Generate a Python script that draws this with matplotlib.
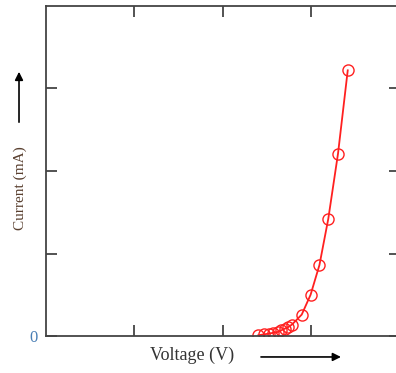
import matplotlib
matplotlib.use("Agg")
import matplotlib.pyplot as plt

# I-V curve of a diode (arbitrary units)
voltage = [2.40, 2.46, 2.52, 2.57, 2.62, 2.66, 2.70, 2.74, 2.78, 2.89, 2.99, 3.09, 3.19, 3.30, 3.41]
current = [0.01, 0.02, 0.03, 0.04, 0.05, 0.07, 0.09, 0.11, 0.14, 0.26, 0.50, 0.86, 1.42, 2.21, 3.22]

x_ticks = [1, 2, 3]
y_ticks = [0, 1, 2, 3]
y_labels = ["0", "", "", ""]

fig = plt.figure(figsize=(3.96, 3.73), dpi=100)
ax = fig.add_axes([0.116, 0.099, 0.894, 0.885])

ax.plot(voltage, current, color="#ff2020", lw=1.3, marker="o", ms=8,
        mfc="none", mec="#ff2020", mew=1.0)

ax.set_xlim(0, 4)
ax.set_ylim(0, 4)
ax.set_xticks(x_ticks)
ax.set_xticklabels([])
ax.set_yticks(y_ticks)
ax.set_yticklabels(y_labels)
ax.tick_params(direction="in", length=8, width=1.3, color="#444444",
               top=True, right=True, labelsize=12, labelcolor="#4a7fb5", pad=6)
for s in ax.spines.values():
    s.set_color("#444444")
    s.set_linewidth(1.3)
ax.spines["right"].set_visible(False)
for lab in ax.get_yticklabels():
    lab.set_family("Liberation Serif")

fig.text(0.485, 0.046, "Voltage (V)", ha="center", va="center",
         family="Liberation Serif", fontsize=13, color="#333333")
fig.text(0.05, 0.495, "Current (mA)", ha="center", va="center", rotation=90,
         family="Liberation Serif", fontsize=11, color="#5a4030")

fig.patches.append(matplotlib.patches.FancyArrowPatch(
    (0.652, 0.043), (0.868, 0.043), transform=fig.transFigure,
    arrowstyle="-|>", mutation_scale=12, color="black", lw=1.2))
fig.patches.append(matplotlib.patches.FancyArrowPatch(
    (0.048, 0.665), (0.048, 0.815), transform=fig.transFigure,
    arrowstyle="-|>", mutation_scale=12, color="black", lw=1.2))

fig.savefig("out.png", dpi=100)
